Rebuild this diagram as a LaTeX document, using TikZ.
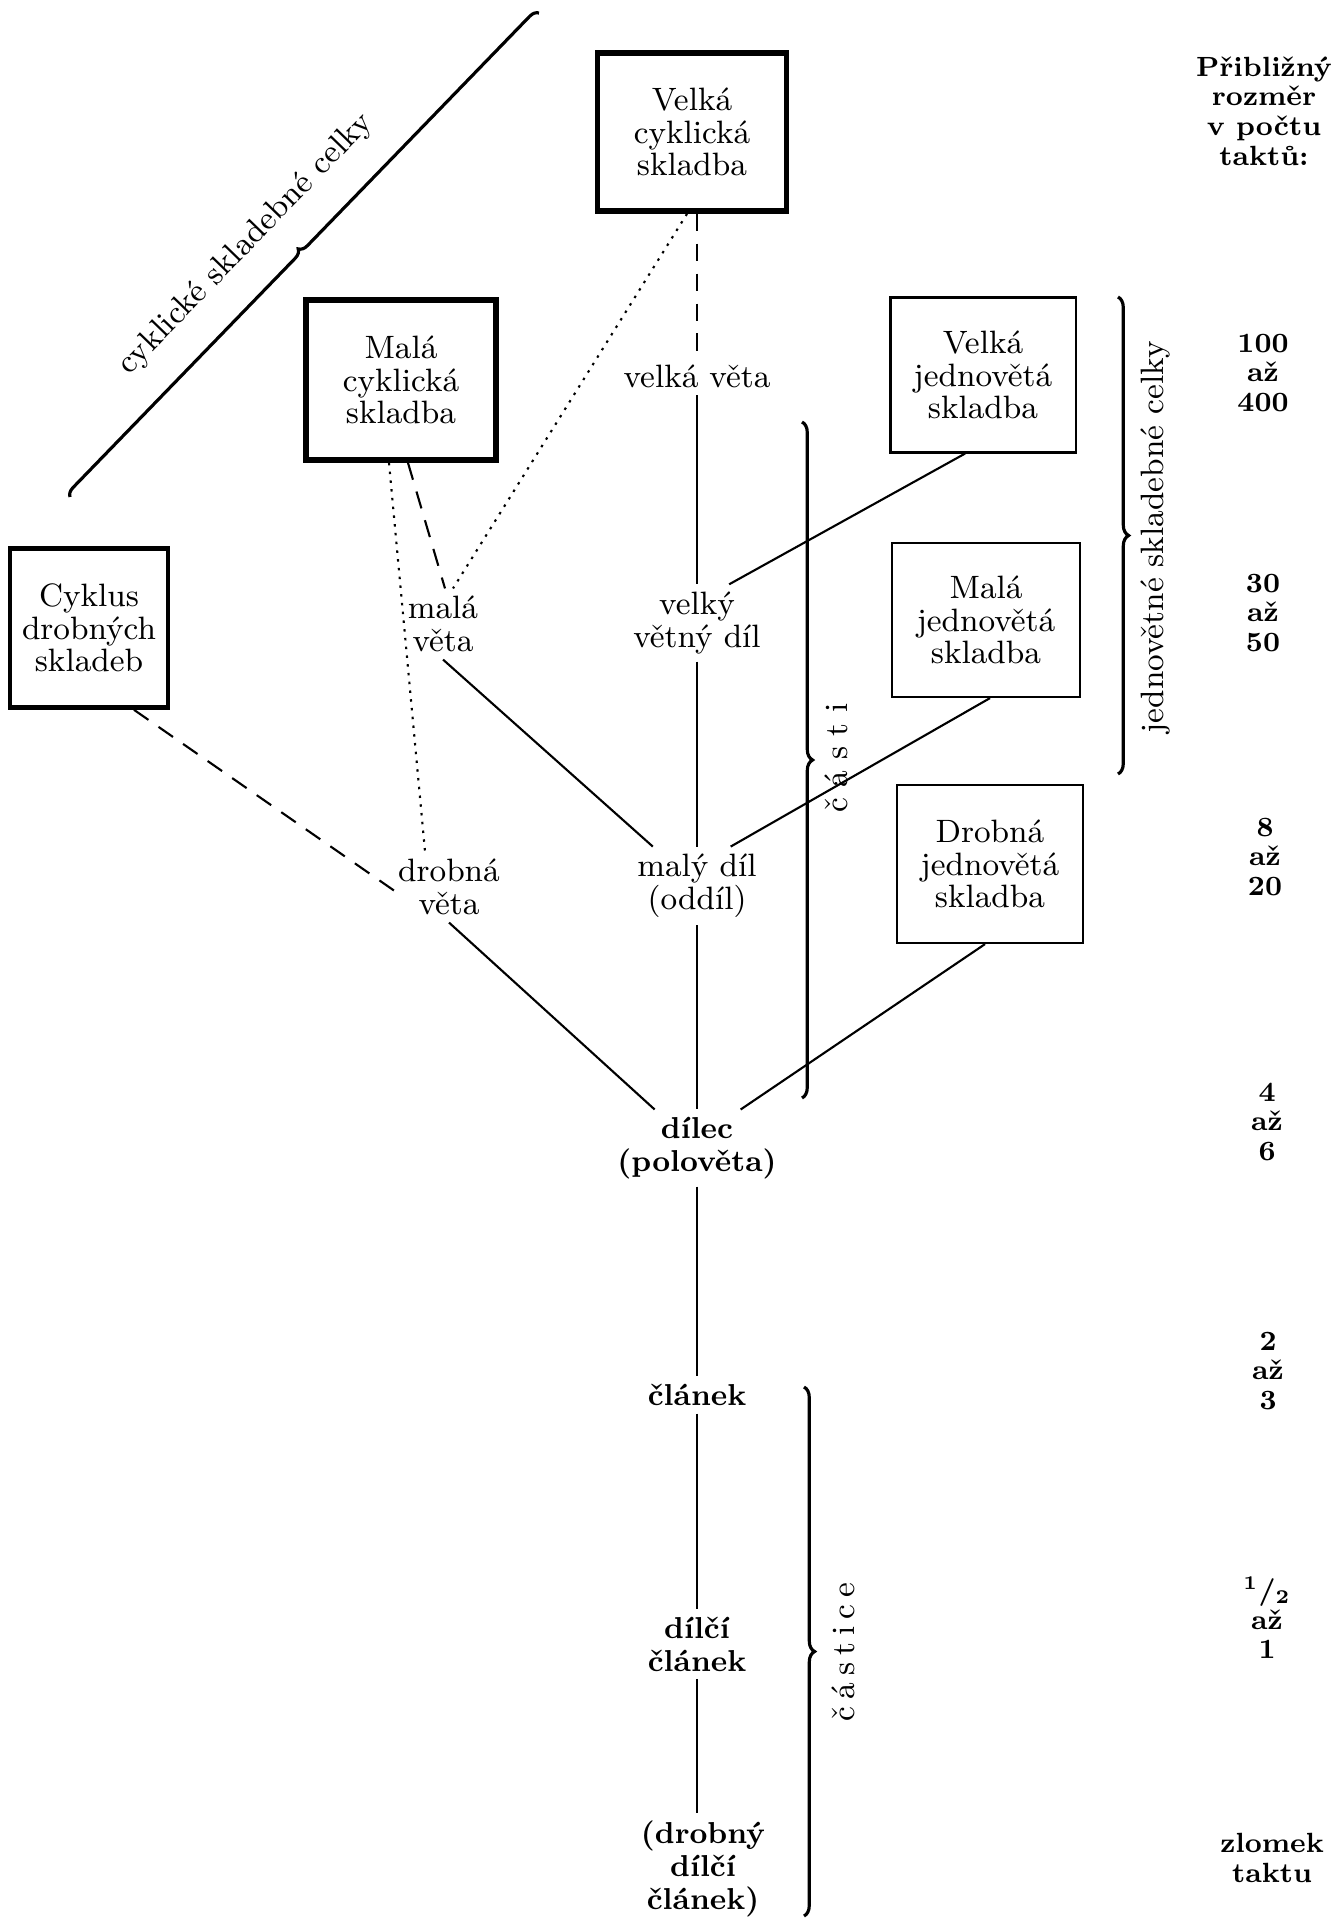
\documentclass[tikz,border=0pt]{standalone}
\usepackage{tikz}
\usetikzlibrary{calc,decorations.pathreplacing}

\tikzset{
  cykbox/.style={draw, line width=1.6pt, align=center, inner sep=0pt, font=\fontsize{9.2}{9.3}\selectfont},
  jedbox/.style={draw, line width=0.6pt, align=center, inner sep=0pt, font=\fontsize{9.2}{9.3}\selectfont},
  lbl/.style={align=center, inner sep=2pt, font=\fontsize{9.2}{9.3}\selectfont},
  lblb/.style={lbl, font=\fontsize{8.6}{9.3}\selectfont\bfseries},
  numb/.style={align=center, inner sep=1pt, font=\fontsize{7.9}{8.4}\selectfont\bfseries},
  conn/.style={line width=0.6pt},
  dsh/.style={dash pattern=on 5pt off 3.5pt},
  dts/.style={dash pattern=on 0.7pt off 1.8pt},
  brc/.style={decorate, decoration={brace, amplitude=3pt}, line width=0.9pt}
}

\begin{document}
\begin{tikzpicture}[x=0.01cm,y=-0.01cm]
\useasboundingbox (0,0) rectangle (1333,1919);

% skladby
\node[cykbox, minimum width=1.89cm, minimum height=1.58cm] (vcs) at (692,132) {Velká\\cyklická\\skladba};
\node[cykbox, minimum width=1.90cm, minimum height=1.60cm] (mcs) at (401,380) {Malá\\cyklická\\skladba};
\node[cykbox, line width=1.3pt, minimum width=1.58cm, minimum height=1.59cm] (cds) at (89,628) {Cyklus\\drobných\\skladeb};
\node[jedbox, minimum width=1.85cm, minimum height=1.55cm] (vjs) at (983,375) {Velká\\jednovětá\\skladba};
\node[jedbox, minimum width=1.88cm, minimum height=1.54cm] (mjs) at (986,620) {Malá\\jednovětá\\skladba};
\node[jedbox, minimum width=1.86cm, minimum height=1.58cm] (djs) at (990,864) {Drobná\\jednovětá\\skladba};

% casti
\node[lbl] (vv) at (697,376) {velká věta};
\node[lbl] (mv) at (443,624) {malá\\věta};
\node[lbl] (vvd) at (697,623) {velký\\větný díl};
\node[lbl] (dv) at (449,887) {drobná\\věta};
\node[lbl] (md) at (697,886) {malý díl\\(oddíl)};
\node[lblb] (dil) at (697,1148) {dílec\\(polověta)};
\node[lblb] (cl) at (697,1395) {článek};
\node[lblb] (dc) at (697,1644) {dílčí\\článek};
\node[lblb] (ddc) at (703,1869) {(drobný\\dílčí\\článek)};

% spojnice
\draw[conn, dsh] (vcs.south -| vv) -- (vv);
\draw[conn] (vv) -- (vvd);
\draw[conn] (vvd) -- (md);
\draw[conn] (md) -- (dil);
\draw[conn] (dil) -- (cl);
\draw[conn] (cl) -- (dc);
\draw[conn] (dc.south) -- (dc.south |- ddc.north);
\draw[conn, dts] ($(vcs.south)+(-5,0)$) -- ($(mv.north)+(10,0)$);
\draw[conn, dsh] ($(mcs.south)+(7,0)$) -- ($(mv.north)+(2,0)$);
\draw[conn, dts] ($(mcs.south)+(-12,0)$) -- ($(dv.north)+(-24,0)$);
\draw[conn, dsh] ($(cds.south)+(45,0)$) -- ($(dv.west)+(10,8)$);
\draw[conn] (mv.south) -- (md);
\draw[conn] (dv.south) -- (dil);
\draw[conn] ($(vjs.south)+(-18,0)$) -- ($(vvd.north)!0.45!(vvd.north east)$);
\draw[conn] ($(mjs.south)+(4,0)$) -- ($(md.north)!0.5!(md.north east)$);
\draw[conn] ($(djs.south)+(-5,0)$) -- ($(dil.north)!0.5!(dil.north east)$);

% zavorky
\draw[brc, decoration={amplitude=2.5pt}] (70,497) -- (539,13);
\node[lbl, rotate=45.9] (csc) at (246,244) {cyklické skladebné celky};
\draw[brc] (802,422) -- (802,1098);
\node[lbl, rotate=90] (casti) at (836,758) {č\hspace{3pt}á\hspace{3pt}s\hspace{3pt}t\hspace{3pt}i};
\draw[brc] (1118,297) -- (1118,774);
\node[lbl, rotate=90] (jsc) at (1156,537) {jednovětné skladebné celky};
\draw[brc] (804,1387) -- (804,1916);
\node[lbl, rotate=90] (castice) at (843,1652) {č\hspace{2pt}á\hspace{2pt}s\hspace{2pt}t\hspace{2pt}i\hspace{2pt}c\hspace{2pt}e};

% rozmer v taktech
\node[numb] (hdr) at (1264,111) {Přibližný\\rozměr\\v počtu\\taktů:};
\node[numb] (n1) at (1263,373) {100\\až\\400};
\node[numb] (n2) at (1263,613) {30\\až\\50};
\node[numb] (n3) at (1265,857) {8\\až\\20};
\node[numb] (n4) at (1267,1122) {4\\až\\6};
\node[numb] (n5) at (1268,1371) {2\\až\\3};
\node[numb] (n6) at (1267,1618) {\textsuperscript{1}/\textsubscript{2}\\až\\1};
\node[numb] (n7) at (1272,1858) {zlomek\\taktu};
\end{tikzpicture}
\end{document}
